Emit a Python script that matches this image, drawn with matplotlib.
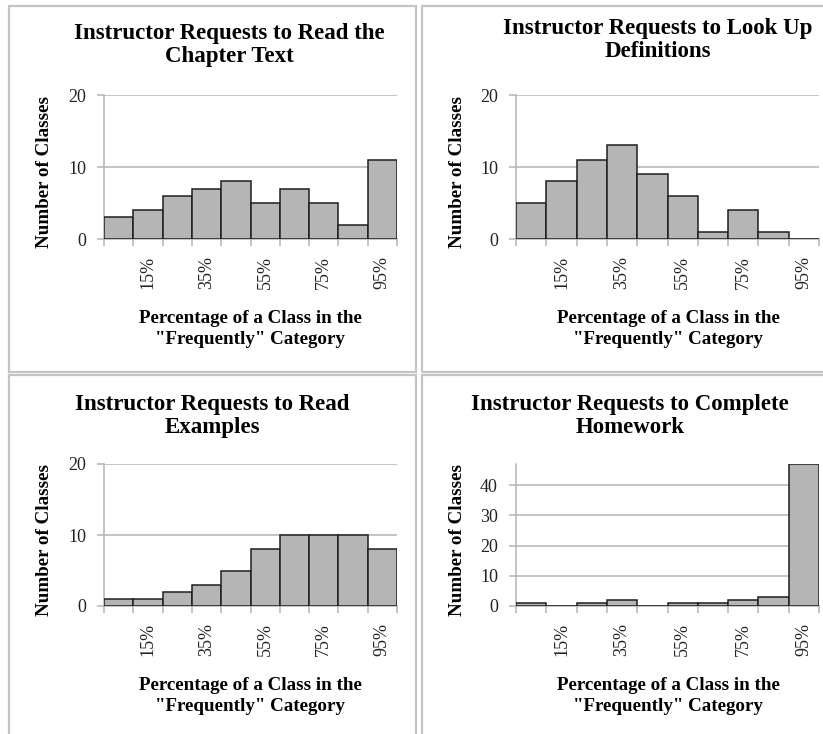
import matplotlib
matplotlib.use("Agg")
import matplotlib.pyplot as plt
from matplotlib.patches import Rectangle
import numpy as np

plt.rcParams["font.family"] = ["Liberation Serif", "DejaVu Serif"]

# Daten
bins = ["5%", "15%", "25%", "35%", "45%", "55%", "65%", "75%", "85%", "95%"]
chapter_text = [3, 4, 6, 7, 8, 5, 7, 5, 2, 11]
definitions = [5, 8, 11, 13, 9, 6, 1, 4, 1, 0]
examples = [1, 1, 2, 3, 5, 8, 10, 10, 10, 8]
homework = [1, 0, 1, 2, 0, 1, 1, 2, 3, 47]

titles = ["Instructor Requests to Read the\nChapter Text",
          "Instructor Requests to Look Up\nDefinitions",
          "Instructor Requests to Read\nExamples",
          "Instructor Requests to Complete\nHomework"]
xlabel = "Percentage of a Class in the\n\"Frequently\" Category"
ylabel = "Number of Classes"

W, H = 823, 734
GRID = "#b4b4b4"
fig = plt.figure(figsize=(W / 100, H / 100), dpi=100)


def fx(x): return x / W
def fy(y): return 1 - y / H


# Rahmen der vier Felder
for (l, t, r, b) in [(9, 6, 416, 372), (422, 6, 830, 372), (9, 375, 416, 740), (422, 375, 830, 740)]:
    fig.add_artist(Rectangle((fx(l), fy(b)), (r - l) / W, (b - t) / H, transform=fig.transFigure,
                             fill=False, edgecolor="#c4c4c4", linewidth=1.6, clip_on=False))

panels = [
    # (werte, ax-box links/oben/rechts/unten, ylim, yticks, titel-mitte, y-label-x, xlabel-x)
    (chapter_text, (104, 95, 397, 239), 20, [0, 10, 20], (229, 45), 45, 250),
    (definitions, (516, 95, 819, 239), 20, [0, 10, 20], (658, 40), 457, 668),
    (examples, (104, 464, 397, 606), 20, [0, 10, 20], (212, 416), 45, 250),
    (homework, (516, 464, 819, 606), 47, [0, 10, 20, 30, 40], (630, 416), 457, 668),
]

for i, (vals, (l, t, r, b), ymax, yt, (tx, ty), ylx, xlx) in enumerate(panels):
    ax = fig.add_axes([fx(l), fy(b), (r - l) / W, (b - t) / H])
    x = np.arange(len(vals))
    ax.bar(x, vals, width=1.0, align="edge", color="#b5b5b5", edgecolor="#1e1e1e",
           linewidth=1.1, zorder=3)
    ax.set_xlim(0, len(vals))
    ax.set_ylim(0, ymax)
    ax.set_yticks(yt)
    ax.set_yticklabels([str(v) for v in yt], fontsize=13, color="#222222")
    ax.yaxis.grid(True, color=GRID, linewidth=1.1, zorder=0)
    ax.set_xticks(np.arange(len(vals) + 1))
    ax.set_xticklabels([])
    ax.set_xticks(x[1::2] + 0.5, minor=True)
    ax.set_xticklabels(bins[1::2], minor=True, rotation=90, fontsize=13, color="#222222")
    ax.tick_params(axis="x", which="major", length=5, color=GRID, width=1.1)
    ax.tick_params(axis="x", which="minor", length=0, pad=12)
    ax.tick_params(axis="y", length=5, color=GRID, width=1.1, pad=8)
    for s in ("top", "right"):
        ax.spines[s].set_visible(False)
    for s in ("left", "bottom"):
        ax.spines[s].set_color(GRID)
        ax.spines[s].set_linewidth(1.1)
    ax.spines["bottom"].set_zorder(2)

    fig.text(fx(tx), fy(ty), titles[i], ha="center", va="center", fontsize=16.5,
             fontweight="bold", linespacing=1.16)
    fig.text(fx(ylx), fy((t + b) / 2 + 5), ylabel, ha="center", va="center", rotation=90,
             fontsize=13.7, fontweight="bold")
    fig.text(fx(xlx), fy(b + 90), xlabel, ha="center", va="center", fontsize=13.7,
             fontweight="bold", linespacing=1.25)

fig.savefig("out.png", dpi=100)
